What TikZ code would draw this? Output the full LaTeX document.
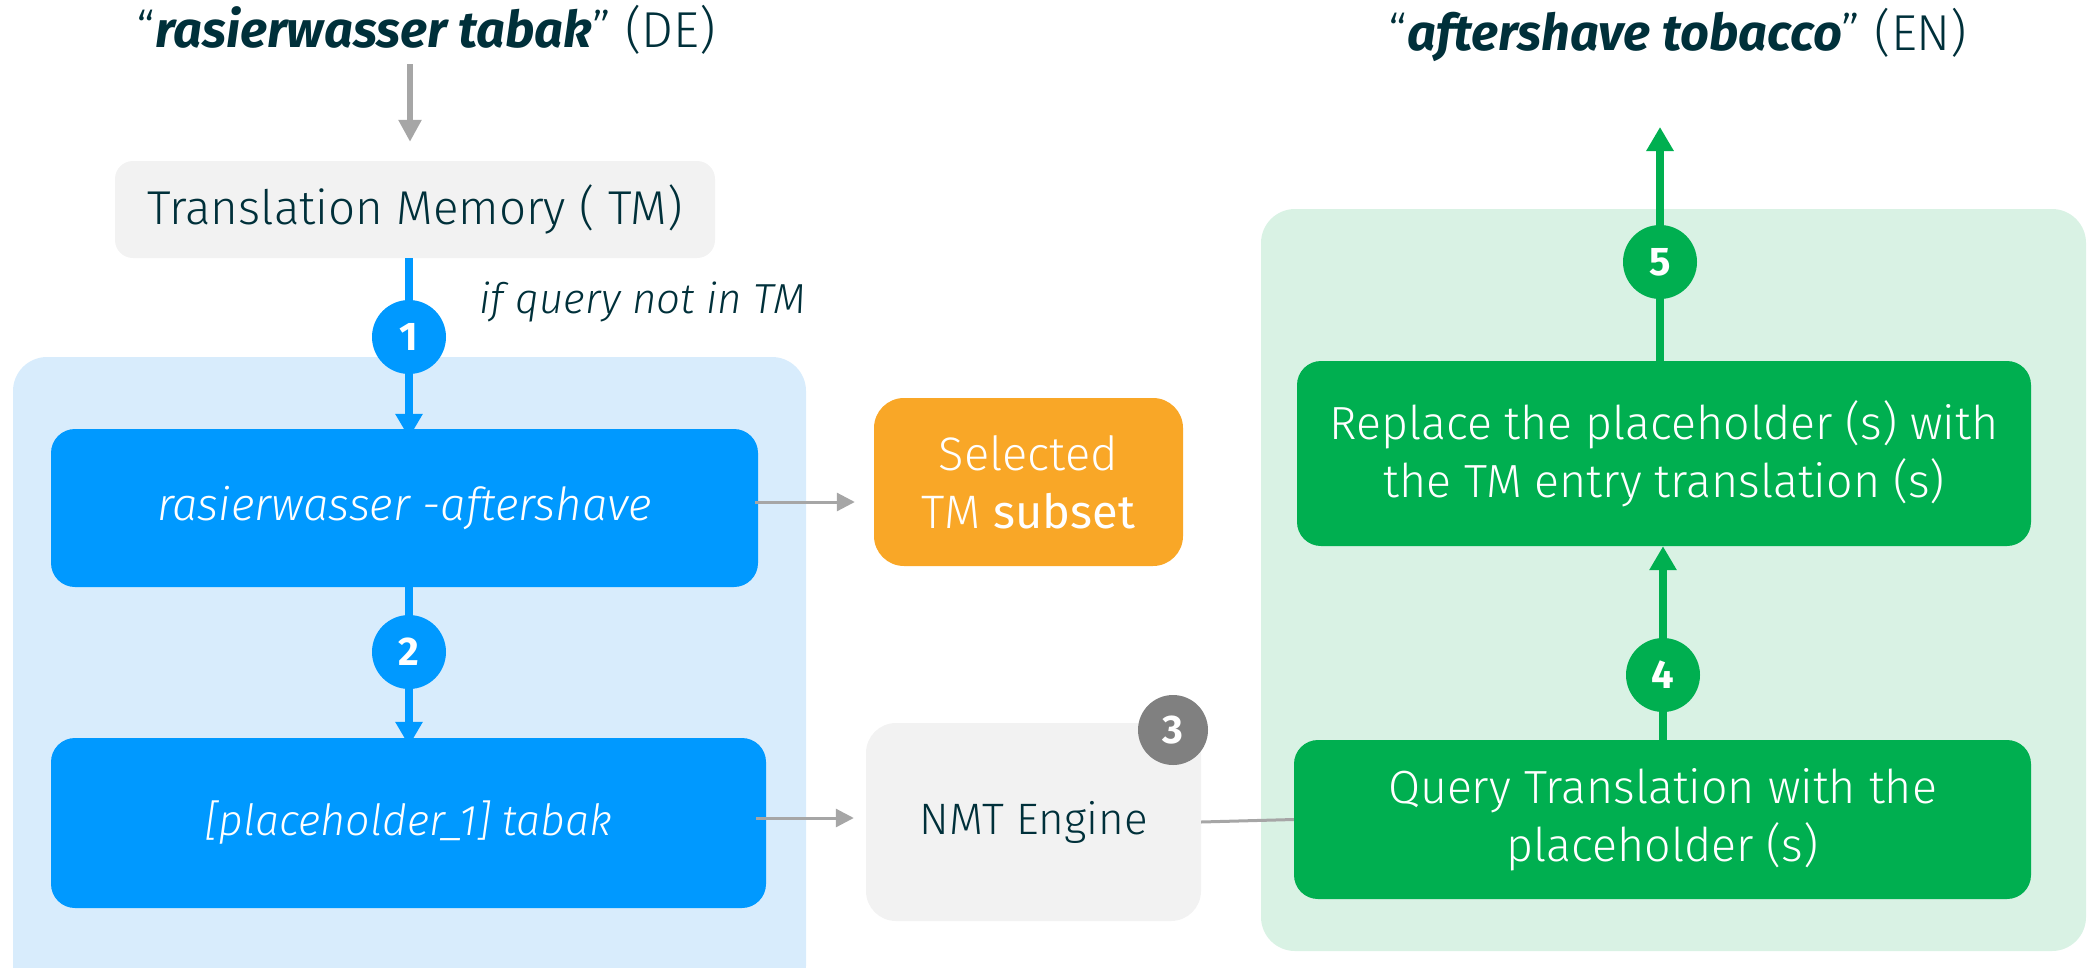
\documentclass[tikz,border=0pt]{standalone}
\usepackage{fontspec}
\setmainfont{Fira Sans Light}[BoldFont={Fira Sans}, ItalicFont={Fira Sans Light Italic}, BoldItalicFont={Fira Sans Bold Italic}]
\newfontfamily\numfont{Fira Sans Bold}
\usetikzlibrary{arrows.meta}
\definecolor{dark}{HTML}{00303A}
\definecolor{bblue}{HTML}{0099FF}
\definecolor{lblue}{HTML}{D8ECFC}
\definecolor{bgreen}{HTML}{00AF50}
\definecolor{lgreen}{HTML}{D9F2E4}
\definecolor{orange}{HTML}{F9A727}
\definecolor{lgray}{HTML}{F2F2F2}
\definecolor{cgray}{HTML}{808080}
\definecolor{agray}{HTML}{A6A6A6}
\begin{document}
\begin{tikzpicture}[x=1pt,y=-1pt,
  box/.style={rounded corners=24pt, inner sep=0pt, align=center, font=\fontsize{46.5}{58}\selectfont},
  container/.style={rounded corners=34pt},
  num/.style={circle, minimum size=74pt, inner sep=0pt, font=\fontsize{40}{40}\numfont, text=white},
  flowb/.style={draw=bblue, line width=8pt, -{Triangle[length=24pt,width=26pt]}},
  flowg/.style={draw=bgreen, line width=8pt, -{Triangle[length=24pt,width=26pt]}},
  thin/.style={draw=agray, line width=3pt, -{Triangle[length=18pt,width=18pt]}},
  titlefont/.style={text=dark, font=\fontsize{50.5}{56}\selectfont}
]
\useasboundingbox (0,0) rectangle (2088,967);
% containers
\fill[lblue, container] (13,357) rectangle (806,1000);
\fill[lgreen, container] (1261,209) rectangle (2086,951);

% titles
\node[titlefont] (titleDE) at (426,30) {“\textbf{\textit{rasierwasser tabak}}” (DE)};
\node[titlefont] (titleEN) at (1678,35) {“\textbf{\textit{aftershave tobacco}}” (EN)};

% boxes
\node[box, fill=lgray, text=dark, minimum width=600pt, minimum height=97pt, rounded corners=18pt, font=\fontsize{47.5}{56}\selectfont] (tm) at (415,209.5) {Translation Memory ( TM)};
\node[box, fill=bblue, text=white, minimum width=707pt, minimum height=158pt, font=\fontsize{45.5}{52}\selectfont\itshape] (q1) at (404.5,508) {rasierwasser -aftershave};
\node[box, fill=bblue, text=white, minimum width=715pt, minimum height=170pt, font=\fontsize{43}{52}\selectfont\itshape] (q2) at (408.5,823) {[placeholder\_1] tabak};
\node[box, fill=orange, text=white, minimum width=309pt, minimum height=168pt, rounded corners=30pt, font=\fontsize{47}{58}\selectfont] (sel) at (1028.5,482) {Selected\\TM \textbf{subset}};
\node[box, fill=lgray, text=dark, minimum width=335pt, minimum height=198pt, rounded corners=30pt, font=\fontsize{44}{52}\selectfont] (nmt) at (1033.5,822) {NMT Engine};
\node[box, fill=bgreen, text=white, minimum width=737pt, minimum height=159pt] (query) at (1662.5,819.5) {Query Translation with the\\placeholder (s)};
\node[box, fill=bgreen, text=white, minimum width=734pt, minimum height=185pt] (repl) at (1664,453.5) {Replace the placeholder (s) with\\the TM entry translation (s)};

% label
\node[text=dark, font=\fontsize{42}{48}\selectfont\itshape, anchor=west] (cond) at (476,302) {if query not in TM};

% coordinates
\coordinate (g0) at (410,64);
\coordinate (out) at (1660,127);
\coordinate (bx) at (409,0);
\coordinate (gx4) at (1663,0);
\coordinate (gx5) at (1660,0);

% arrows
\draw[draw=agray, line width=6pt, -{Triangle[length=22pt,width=22pt]}] (g0) -- (g0 |- tm.north) [shorten >=19pt];
\draw[flowb] (tm.south -| bx) -- ([yshift=-9pt]q1.north -| bx);
\draw[flowb] (q1.south -| bx) -- ([yshift=-8pt]q2.north -| bx);
\draw[flowg] (query.north -| gx4) -- (repl.south -| gx4);
\draw[flowg] (repl.north -| gx5) -- (out);
\draw[thin] ([xshift=-3pt,yshift=6pt]q1.east) -- ([yshift=6pt]q1.east -| sel.west) [shorten >=19pt];
\draw[thin] ([xshift=-10pt,yshift=5pt]q2.east) -- ([yshift=5pt]q2.east -| nmt.west) [shorten >=12pt];
\draw[draw=agray, line width=3pt] (nmt.east) -- (query.west);

% numbered circles
\node[num, fill=bblue] (n1) at (409,337) {1};
\node[num, fill=bblue] (n2) at (409,652) {2};
\node[num, fill=cgray, minimum size=70pt] (n3) at (1173,730) {3};
\node[num, fill=bgreen] (n4) at (1663,675) {4};
\node[num, fill=bgreen] (n5) at (1660,262) {5};
\end{tikzpicture}
\end{document}
